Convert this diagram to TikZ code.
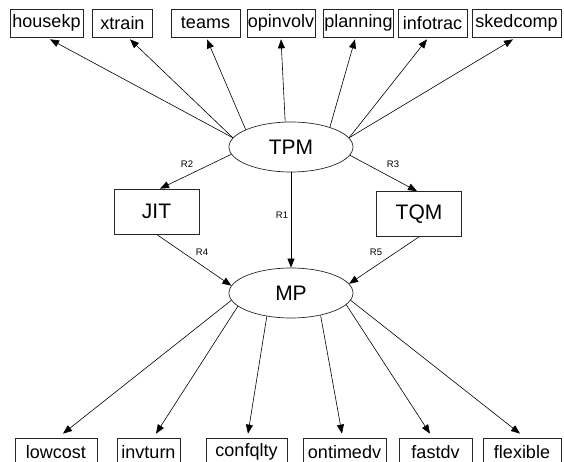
\documentclass[tikz,border=0pt]{standalone}
\usepackage{fontspec}
\setmainfont{Liberation Sans}
\usetikzlibrary{arrows.meta,shapes.geometric}
\begin{document}
\begin{tikzpicture}[x=1pt,y=-1pt,
  ind/.style={draw=black!85, line width=0.7pt, font=\fontsize{18}{20}\selectfont, minimum height=28pt, inner sep=0pt},
  lat/.style={draw=black!85, ellipse, line width=0.7pt, minimum width=124pt, minimum height=50pt, inner sep=0pt, font=\fontsize{21}{23}\selectfont},
  mid/.style={draw=black!85, line width=0.7pt, minimum width=85pt, minimum height=45pt, inner sep=0pt, font=\fontsize{21}{23}\selectfont},
  arr/.style={line width=0.6pt, -{Triangle[length=9pt,width=7pt]}},
  rl/.style={font=\fontsize{9.5}{10}\selectfont, inner sep=0pt}]
\useasboundingbox (0,0) rectangle (564,462);
\clip (0,0) rectangle (564,462);

% latent variables
\node[lat] (TPM) at (291,147) {TPM};
\node[lat] (MP) at (291,293) {MP};
\node[mid] (JIT) at (156.5,211.5) {JIT};
\node[mid] (TQM) at (419,214) {TQM};

% top indicators
\node[ind, minimum width=73pt] (housekp) at (46.5,23) {housekp};
\node[ind, minimum width=60pt] (xtrain) at (122.5,23) {xtrain};
\node[ind, minimum width=69pt] (teams) at (205.5,23) {teams};
\node[ind, minimum width=68pt] (opinvolv) at (281,23) {opinvolv};
\node[ind, minimum width=70pt] (planning) at (358.5,23) {planning};
\node[ind, minimum width=69pt] (infotrac) at (432.5,23) {infotrac};
\node[ind, minimum width=89pt] (skedcomp) at (516.5,23) {skedcomp};

% bottom indicators
\node[ind, minimum width=82pt] (lowcost) at (56,452) {lowcost};
\node[ind, minimum width=63pt] (invturn) at (148.5,452) {invturn};
\node[ind, minimum width=81pt] (confqlty) at (246.5,452) {confqlty};
\node[ind, minimum width=83pt] (ontimedv) at (344.5,452) {ontimedv};
\node[ind, minimum width=73pt] (fastdv) at (435.5,452) {fastdv};
\node[ind, minimum width=78pt] (flexible) at (522,452) {flexible};

% TPM -> top indicators
\draw[arr] (TPM.171) -- ([xshift=3.5pt,yshift=-2pt]housekp.south);
\draw[arr] (TPM.171) -- ([xshift=7.5pt,yshift=-2pt]xtrain.south);
\draw[arr] (TPM.159) -- ([xshift=1.5pt,yshift=-2pt]teams.south);
\draw[arr] (TPM.103) -- ([yshift=-2pt]opinvolv.south);
\draw[arr] (TPM.27) -- ([xshift=-3.5pt,yshift=-2pt]planning.south);
\draw[arr] (TPM.9) -- ([xshift=-5.5pt,yshift=-2pt]infotrac.south);
\draw[arr] (TPM.9) -- ([xshift=-3.5pt,yshift=-2pt]skedcomp.south);

% structural paths
\draw[arr] (TPM.187) -- ([xshift=3.5pt]JIT.north);
\draw[arr] (TPM.-8) -- ([xshift=-2pt]TQM.north);
\draw[arr] (TPM.south) -- (MP.north);
\draw[arr] (JIT.south) -- (MP.173);
\draw[arr] (TQM.south) -- (MP.9.5);

% MP -> bottom indicators
\draw[arr] (MP.187) -- ([xshift=7pt,yshift=4pt]lowcost.north);
\draw[arr] (MP.194.5) -- ([xshift=7.5pt,yshift=4pt]invturn.north);
\draw[arr] (MP.224) -- ([xshift=1.5pt,yshift=4pt]confqlty.north);
\draw[arr] (MP.323) -- ([xshift=-2.5pt,yshift=4pt]ontimedv.north);
\draw[arr] (MP.-12.8) -- ([xshift=-5.5pt,yshift=4pt]fastdv.north);
\draw[arr] (MP.-7) -- ([xshift=-2pt,yshift=4pt]flexible.north);

% path labels
\node[rl] (r1) at (282,215) {R1};
\node[rl] (r2) at (187,164) {R2};
\node[rl] (r3) at (393,164) {R3};
\node[rl] (r4) at (202,252) {R4};
\node[rl] (r5) at (376,252) {R5};
\end{tikzpicture}
\end{document}
